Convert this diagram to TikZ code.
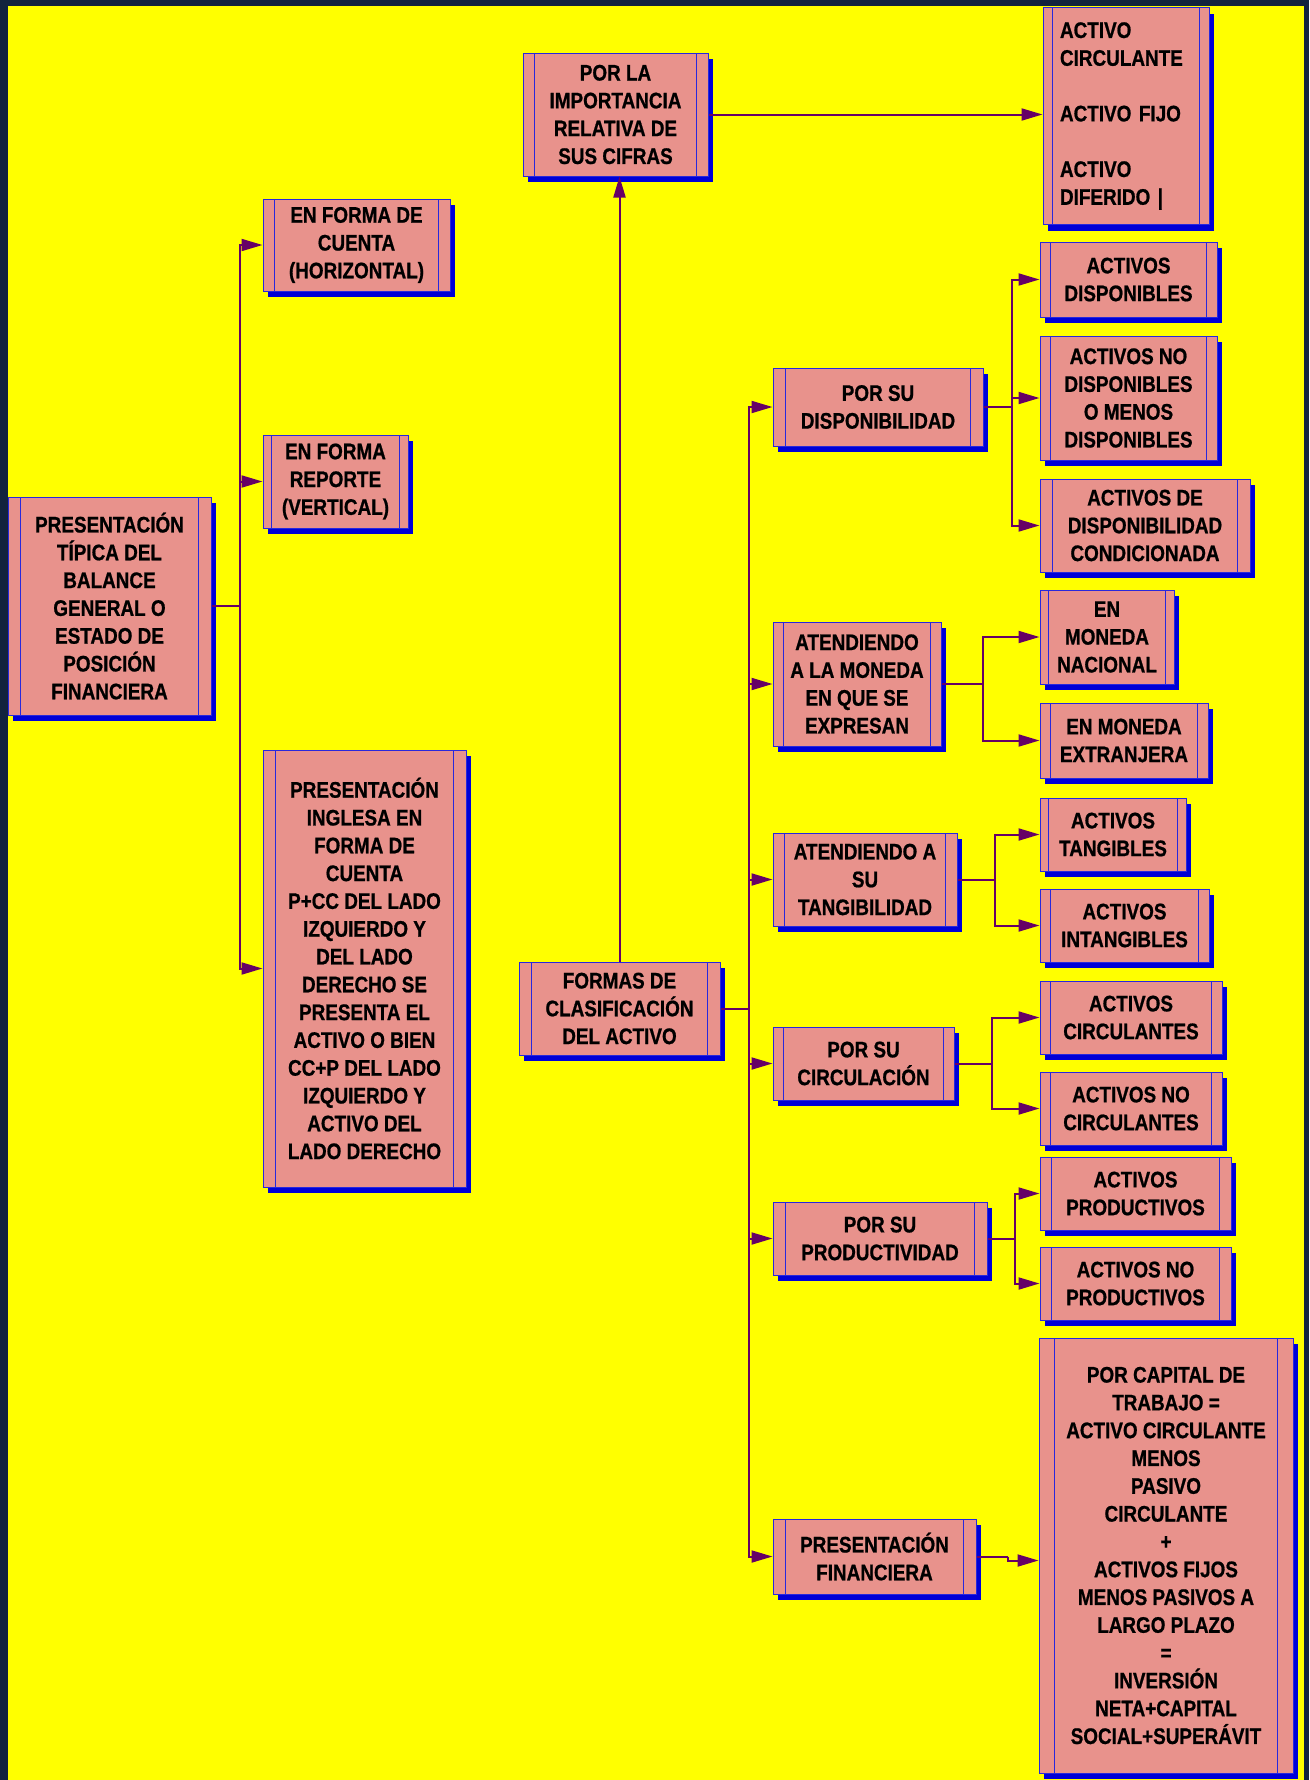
\documentclass[tikz,border=0pt]{standalone}
\usepackage{fontspec}
\newfontfamily\cajafont{Liberation Sans}[FakeStretch=0.84, BoldFeatures={FakeBold=0.8}]
\usetikzlibrary{shapes,arrows.meta,positioning,calc,shadows}

\definecolor{rosa}{RGB}{232,146,140}
\definecolor{azulborde}{RGB}{40,40,220}
\definecolor{sombra}{RGB}{0,0,215}
\definecolor{morado}{RGB}{102,0,102}
\definecolor{fondo}{RGB}{255,255,0}
\definecolor{marco}{RGB}{18,35,62}

\tikzset{
  caja/.style={draw=azulborde, line width=1pt, fill=rosa, align=center, inner sep=0pt,
    font=\cajafont\bfseries\fontsize{22.5}{27.8}\selectfont,
    drop shadow={shadow xshift=5pt, shadow yshift=-6pt, fill=sombra, opacity=1},
    path picture={
      \draw[azulborde, line width=1pt]
        ($(path picture bounding box.north west)!0.06!(path picture bounding box.north east)$) --
        ($(path picture bounding box.south west)!0.06!(path picture bounding box.south east)$)
        ($(path picture bounding box.north east)!0.06!(path picture bounding box.north west)$) --
        ($(path picture bounding box.south east)!0.06!(path picture bounding box.south west)$);
    }},
  tam/.style 2 args={minimum width=#1pt, minimum height=#2pt},
  linea/.style={draw=morado, line width=2pt},
}

\begin{document}
\begin{tikzpicture}[x=1pt, y=-1pt, >={Triangle[length=21pt, width=12pt]}]

  % Fondo
  \useasboundingbox (0,0) rectangle (1309,1780);
  \fill[marco] (0,0) rectangle (1309,1780);
  \fill[fondo] (8,6) rectangle (1304,1780);

  % Presentacion del balance
  \node[caja, tam={203}{218}] (tip) at (109.5,606) {PRESENTACIÓN\\TÍPICA DEL\\BALANCE\\GENERAL O\\ESTADO DE\\POSICIÓN\\FINANCIERA};
  \node[caja, tam={187}{92}] (cta) at (356.5,245) {EN FORMA DE\\CUENTA\\(HORIZONTAL)};
  \node[caja, tam={145}{93}] (rep) at (335.5,481.5) {EN FORMA\\REPORTE\\(VERTICAL)};
  \node[caja, tam={203}{437}] (ing) at (364.5,968.5) {PRESENTACIÓN\\INGLESA EN\\FORMA DE\\CUENTA\\P+CC DEL LADO\\IZQUIERDO Y\\DEL LADO\\DERECHO SE\\PRESENTA EL\\ACTIVO O BIEN\\CC+P DEL LADO\\IZQUIERDO Y\\ACTIVO DEL\\LADO DERECHO};

  % Clasificacion del activo
  \node[caja, tam={201}{93}] (formas) at (619.5,1008.5) {FORMAS DE\\CLASIFICACIÓN\\DEL ACTIVO};
  \node[caja, tam={185}{123}] (imp) at (615.5,114.5) {POR LA\\IMPORTANCIA\\RELATIVA DE\\SUS CIFRAS};
  \node[caja, tam={166}{217}, text width=132pt, align=left] (act) at (1126,116) {ACTIVO\\CIRCULANTE\\[27.8pt]ACTIVO FIJO\\[27.8pt]ACTIVO\\DIFERIDO |};

  % Criterios
  \node[caja, tam={210}{78}] (disp) at (878,407) {POR SU\\DISPONIBILIDAD};
  \node[caja, tam={168}{124}] (mon) at (857,684) {ATENDIENDO\\A LA MONEDA\\EN QUE SE\\EXPRESAN};
  \node[caja, tam={184}{93}] (tan) at (865,879.5) {ATENDIENDO A\\SU\\TANGIBILIDAD};
  \node[caja, tam={181}{73}] (circ) at (863.5,1063.5) {POR SU\\CIRCULACIÓN};
  \node[caja, tam={214}{73}] (prod) at (880,1238.5) {POR SU\\PRODUCTIVIDAD};
  \node[caja, tam={203}{75}] (pf) at (874.5,1556.5) {PRESENTACIÓN\\FINANCIERA};

  % Tipos de activo
  \node[caja, tam={177}{75}] (ad) at (1128.5,279.5) {ACTIVOS\\DISPONIBLES};
  \node[caja, tam={177}{124}] (and) at (1128.5,398) {ACTIVOS NO\\DISPONIBLES\\O MENOS\\DISPONIBLES};
  \node[caja, tam={210}{93}] (adc) at (1145,525.5) {ACTIVOS DE\\DISPONIBILIDAD\\CONDICIONADA};
  \node[caja, tam={134}{94}] (nac) at (1107,637) {EN\\MONEDA\\NACIONAL};
  \node[caja, tam={168}{75}] (ext) at (1124,740.5) {EN MONEDA\\EXTRANJERA};
  \node[caja, tam={146}{73}] (tg) at (1113,834.5) {ACTIVOS\\TANGIBLES};
  \node[caja, tam={169}{73}] (itg) at (1124.5,925.5) {ACTIVOS\\INTANGIBLES};
  \node[caja, tam={182}{73}] (ac) at (1131,1017.5) {ACTIVOS\\CIRCULANTES};
  \node[caja, tam={182}{73}] (anc) at (1131,1108.5) {ACTIVOS NO\\CIRCULANTES};
  \node[caja, tam={191}{73}] (ap) at (1135.5,1193.5) {ACTIVOS\\PRODUCTIVOS};
  \node[caja, tam={191}{73}] (anp) at (1135.5,1283.5) {ACTIVOS NO\\PRODUCTIVOS};
  \node[caja, tam={254}{435}] (cap) at (1166,1555.5) {POR CAPITAL DE\\TRABAJO =\\ACTIVO CIRCULANTE\\MENOS\\PASIVO\\CIRCULANTE\\+\\ACTIVOS FIJOS\\MENOS PASIVOS A\\LARGO PLAZO\\=\\INVERSIÓN\\NETA+CAPITAL\\SOCIAL+SUPERÁVIT};

  % Conectores del balance
  \draw[linea] (tip.east) -- ++(28,0) coordinate (tr1);
  \foreach \n in {cta,rep,ing}
    \draw[linea,->] (tr1) |- (\n.west);

  % Conectores de la clasificacion
  \draw[linea,->] (formas.north) -- (formas.north |- imp.south);
  \draw[linea,->] (imp.east) -- (imp.east -| act.west);
  \draw[linea] (formas.east) -- ++(28,0) coordinate (tr2);
  \foreach \n in {disp,mon,tan,circ,prod,pf}
    \draw[linea,->] (tr2) |- (\n.west);

  % Ramas
  \draw[linea] (disp.east) -- ++(28,0) coordinate (tr3);
  \foreach \n in {ad,and,adc}
    \draw[linea,->] (tr3) |- (\n.west);
  \draw[linea] (mon.east) -- ++(41,0) coordinate (tr4);
  \foreach \n in {nac,ext}
    \draw[linea,->] (tr4) |- (\n.west);
  \draw[linea] (tan.east) -- ++(37,0) coordinate (tr5);
  \foreach \n in {tg,itg}
    \draw[linea,->] (tr5) |- (\n.west);
  \draw[linea] (circ.east) -- ++(37,0) coordinate (tr6);
  \foreach \n in {ac,anc}
    \draw[linea,->] (tr6) |- (\n.west);
  \draw[linea] (prod.east) -- ++(27,0) coordinate (tr7);
  \foreach \n in {ap,anp}
    \draw[linea,->] (tr7) |- (\n.west);
  \draw[linea] (pf.east) -- ++(31,0) coordinate (tr8);
  \draw[linea,->] (tr8) |- ([yshift=-5pt]cap.west);

\end{tikzpicture}
\end{document}
